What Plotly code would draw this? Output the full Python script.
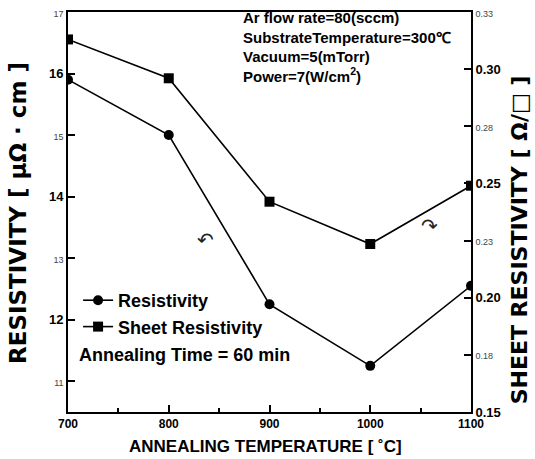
import plotly.graph_objects as go

temps = [700, 800, 900, 1000, 1100]
resistivity = [15.9, 15.0, 12.25, 11.25, 12.55]
sheet_res = [0.313, 0.296, 0.242, 0.2235, 0.249]

x_ticks = [700, 800, 900, 1000, 1100]
y_ticks = [11, 12, 13, 14, 15, 16, 17]
y2_ticks = [0.15, 0.175, 0.2, 0.225, 0.25, 0.275, 0.3, 0.325]
y2_labels = ["0.15", "0.18", "0.20", "0.23", "0.25", "0.28", "0.30", "0.33"]

FONT = "Liberation Sans"
BIG = "<b>{}</b>"
SMALL = "<span style='font-size:9px;color:#444'>{}</span>"

y_text = [BIG.format(v) if v % 2 == 0 else SMALL.format(v) for v in y_ticks]
y2_text = [BIG.format(l) if i % 2 == 0 else SMALL.format(l) for i, l in enumerate(y2_labels)]

fig = go.Figure()
fig.add_trace(go.Scatter(x=temps, y=resistivity, name="Resistivity", mode="lines+markers",
                         line=dict(color="black", width=1.6),
                         marker=dict(symbol="circle", size=10, color="black"), yaxis="y"))
fig.add_trace(go.Scatter(x=temps, y=sheet_res, name="Sheet Resistivity", mode="lines+markers",
                         line=dict(color="black", width=1.6),
                         marker=dict(symbol="square", size=10, color="black"), yaxis="y2"))

axis_common = dict(showgrid=False, zeroline=False, showline=True, linecolor="black", linewidth=1.8,
                   ticks="inside", tickcolor="black", tickwidth=1.5, ticklen=7)

fig.update_layout(
    width=535, height=459,
    margin=dict(l=68, r=64, t=12, b=47, autoexpand=False),
    paper_bgcolor="white", plot_bgcolor="white",
    font=dict(family=FONT, color="black", size=12),
    showlegend=True,
    legend=dict(x=0.025, y=0.325, xanchor="left", yanchor="top", bgcolor="rgba(0,0,0,0)",
                font=dict(family=FONT, size=18, weight="bold"), itemwidth=30, tracegroupgap=0),
    xaxis=dict(range=[700, 1100], tickvals=x_ticks, ticktext=[BIG.format(v) for v in x_ticks],
               mirror=True, minor=dict(dtick=50, ticks="inside", ticklen=4, tickcolor="black"),
               tickfont=dict(size=12), **axis_common),
    yaxis=dict(range=[10.5, 17], tickvals=y_ticks, ticktext=y_text, tickfont=dict(size=13),
               **axis_common),
    yaxis2=dict(range=[0.15, 0.325], overlaying="y", side="right", tickvals=y2_ticks,
                ticktext=y2_text, tickfont=dict(size=13), **axis_common),
)

ann_font = dict(family=FONT, size=15, color="black", weight="bold")
fig.add_annotation(xref="paper", yref="paper", x=0.43, y=1.0, yshift=5, xanchor="left", yanchor="top",
                   align="left", showarrow=False, font=ann_font,
                   text="Ar flow rate=80(sccm)<br>SubstrateTemperature=300℃<br>Vacuum=5(mTorr)<br>Power=7(W/cm<sup>2</sup>)")
fig.add_annotation(xref="paper", yref="paper", x=0.022, y=0.1425, xanchor="left", yanchor="middle",
                   showarrow=False, font=dict(family=FONT, size=18, color="black", weight="bold"),
                   text="Annealing Time = 60 min")
fig.add_annotation(xref="paper", yref="paper", x=0.49, y=-0.085, xanchor="center", yanchor="middle",
                   showarrow=False, font=dict(family=FONT, size=17, color="black", weight="bold"),
                   text="ANNEALING TEMPERATURE [ ˚C]")
fig.add_annotation(xref="paper", yref="paper", x=-0.124, y=0.4975, xanchor="center", yanchor="middle",
                   textangle=-90, showarrow=False,
                   font=dict(family="DejaVu Sans", size=23, color="black", weight="bold"),
                   text="RESISTIVITY [ μΩ · cm ]")
fig.add_annotation(xref="paper", yref="paper", x=1.12, y=0.43, xanchor="center", yanchor="middle",
                   textangle=-90, showarrow=False,
                   font=dict(family="DejaVu Sans", size=22, color="black", weight="bold"),
                   text="SHEET RESISTIVITY [ Ω/□ ]")
# small curved pointer arrows
fig.add_annotation(xref="paper", yref="paper", x=0.34, y=0.43, showarrow=False,
                   font=dict(family="DejaVu Sans", size=20, color="#222"), text="↶")
fig.add_annotation(xref="paper", yref="paper", x=0.922, y=0.465, showarrow=False,
                   font=dict(family="DejaVu Sans", size=20, color="#222"), text="↷")

fig.write_html("out.html", config={"displayModeBar": False},
               post_script="document.body.style.margin='0px';")
